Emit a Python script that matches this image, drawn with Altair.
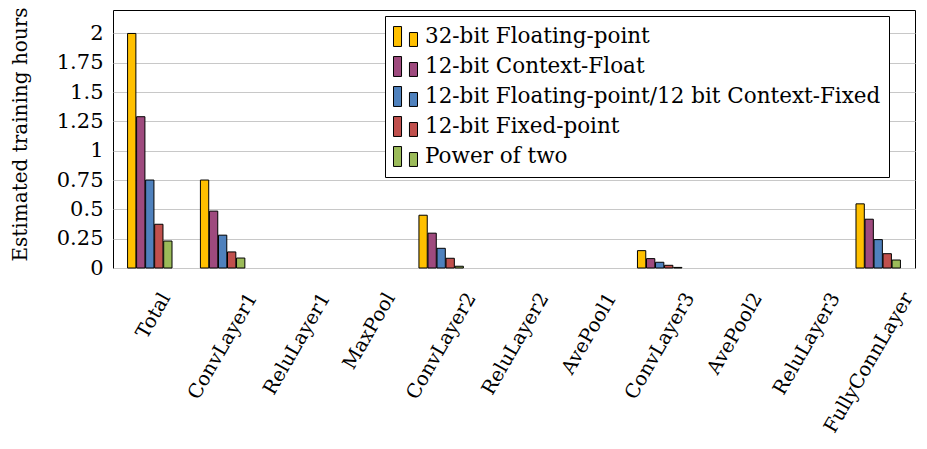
import altair as alt
import pandas as pd

categories = ["Total", "ConvLayer1", "ReluLayer1", "MaxPool", "ConvLayer2", "ReluLayer2",
              "AvePool1", "ConvLayer3", "AvePool2", "ReluLayer3", "FullyConnLayer"]
series = ["32-bit Floating-point", "12-bit Context-Float",
          "12-bit Floating-point/12 bit Context-Fixed", "12-bit Fixed-point", "Power of two"]
colors = ["#FFC000", "#9E4A7E", "#4F81BD", "#C0504D", "#9BBB59"]

fp32 = [2.0, 0.75, 0, 0, 0.45, 0, 0, 0.148, 0, 0, 0.547]
cfloat12 = [1.29, 0.485, 0, 0, 0.297, 0, 0, 0.08, 0, 0, 0.416]
fp12 = [0.75, 0.28, 0, 0, 0.168, 0, 0, 0.049, 0, 0, 0.242]
fixed12 = [0.373, 0.137, 0, 0, 0.083, 0, 0, 0.023, 0, 0, 0.122]
pow2 = [0.23, 0.085, 0, 0, 0.015, 0, 0, 0.005, 0, 0, 0.068]
y_ticks = [0, 0.25, 0.5, 0.75, 1, 1.25, 1.5, 1.75, 2]

values = [fp32, cfloat12, fp12, fixed12, pow2]
rows = []
for s, vals in zip(series, values):
    for c, v in zip(categories, vals):
        rows.append({"layer": c, "series": s, "hours": v})
df = pd.DataFrame(rows)

FONT = "DejaVu Serif"
sym = "M-1,-0.83H-0.33V0.83H-1Z M0.33,-0.33H1V0.83H0.33Z"

chart = alt.Chart(df).transform_filter("datum.hours > 0").mark_bar(
    stroke="black", strokeWidth=1).encode(
    x=alt.X("layer:N", sort=categories,
            scale=alt.Scale(domain=categories, paddingInner=0.39, paddingOuter=0.2),
            axis=alt.Axis(title=None, labelAngle=-60, labelAlign="right",
                          labelBaseline="middle",
                          labelOffset=alt.ExprRef(expr="min(3 * length(datum.label) + 1, 30)"),
                          labelPadding=26,
                          ticks=False, domain=False, labelFont=FONT, labelFontSize=19.5,
                          labelColor="black")),
    xOffset=alt.XOffset("series:N", sort=series,
                        scale=alt.Scale(domain=series, paddingInner=0.08, paddingOuter=0)),
    y=alt.Y("hours:Q", scale=alt.Scale(domain=[0, 2.2], nice=False),
            axis=alt.Axis(title="Estimated training hours",
                          values=y_ticks,
                          labelExpr="'' + datum.value", ticks=False, domain=False,
                          labelPadding=10,
                          labelFont=FONT, labelFontSize=21, labelColor="black",
                          titleFont=FONT, titleFontSize=20, titleFontWeight="normal",
                          titleColor="black", titlePadding=26, titleY=124,
                          gridColor="#c8c8c8", gridWidth=1)),
    color=alt.Color("series:N", sort=series,
                    scale=alt.Scale(domain=series, range=colors),
                    legend=alt.Legend(title=None, orient="none", legendX=272, legendY=6,
                                      symbolType=sym, symbolSize=576,
                                      symbolStrokeColor="black", symbolStrokeWidth=1,
                                      labelFont=FONT, labelFontSize=21.5, labelColor="black",
                                      labelOffset=7, rowPadding=5, padding=8,
                                      strokeColor="black", fillColor="white",
                                      labelLimit=700)),
).properties(
    width=802, height=258,
    autosize=alt.AutoSizeParams(type="none"),
    padding={"left": 105, "top": 2, "right": 4, "bottom": 173},
).configure(font=FONT).configure_view(stroke="black", strokeWidth=1)

chart.save("out.html", embed_options={"renderer": "svg", "actions": False})
